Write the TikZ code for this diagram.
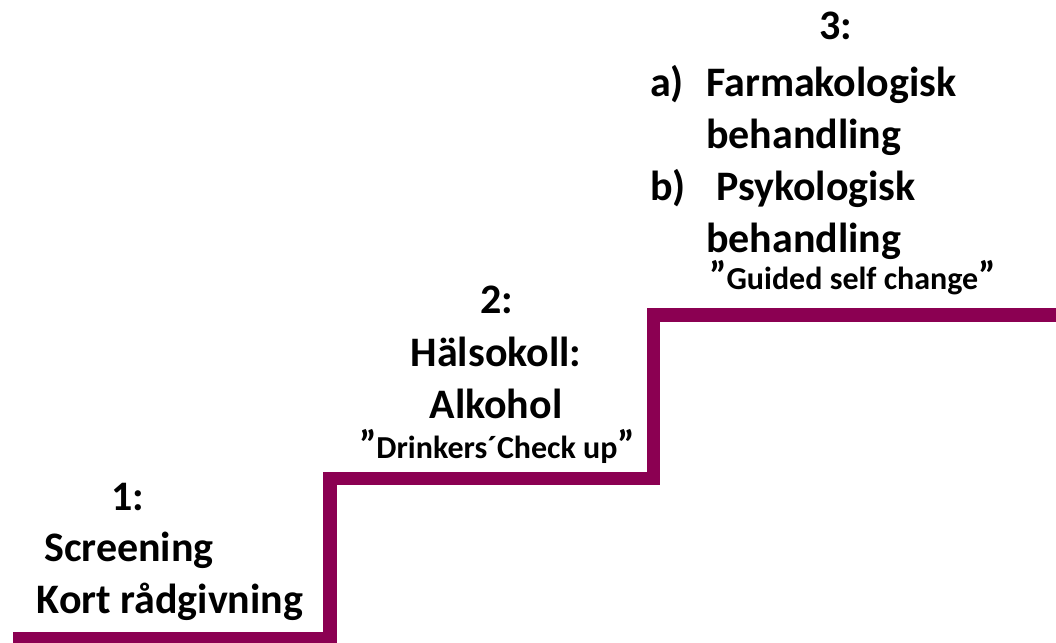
\documentclass[tikz,border=0pt]{standalone}
\usepackage{fontspec}
\setmainfont{Carlito}
\definecolor{stair}{RGB}{139,0,82}
\newcommand{\bigq}{{\fontsize{40}{40}\selectfont ”}}
\begin{document}
\begin{tikzpicture}[x=1pt,y=-1pt,
  big/.style={font=\fontsize{42}{52}\selectfont\bfseries, inner sep=0pt, anchor=base},
  small/.style={font=\fontsize{32}{36}\selectfont\bfseries, inner sep=0pt, anchor=base},
  stairline/.style={draw=stair, line width=13.3pt, line join=miter}]
\useasboundingbox (0,0) rectangle (1056,642);
\coordinate (s0) at (13,639);
\coordinate (s1) at (330,639);
\coordinate (s2) at (330,478.3);
\coordinate (s3) at (653.3,478.3);
\coordinate (s4) at (653.3,315);
\coordinate (s5) at (1070,315);
\draw[stairline] (s0) -- (s1) -- (s2) -- (s3) -- (s4) -- (s5);
% step 1
\node[big] (n1) at (128,510) {1:};
\node[big] (scr) at (129,561) {Screening};
\node[big] (kort) at (170,613) {Kort rådgivning};
% step 2
\node[big] (n2) at (497,313) {2:};
\node[big] (hal) at (496,366) {Hälsokoll:};
\node[big] (alk) at (496,418) {Alkohol};
\node[small] (dri) at (497,458) {\bigq Drinkers´Check up\bigq};
% step 3
\node[big] (n3) at (836,40) {3:};
\node[big, anchor=base west] (la) at (650,96) {a)};
\node[big, anchor=base west] (farm) at (706,96) {Farmakologisk};
\node[big, anchor=base west] (beh1) at (706,148) {behandling};
\node[big, anchor=base west] (lb) at (650,200) {b)};
\node[big, anchor=base west] (psy) at (716,200) {Psykologisk};
\node[big, anchor=base west] (beh2) at (706,252) {behandling};
\node[small, anchor=base west] (gui) at (709,289) {\bigq Guided self change\bigq};
\end{tikzpicture}
\end{document}
